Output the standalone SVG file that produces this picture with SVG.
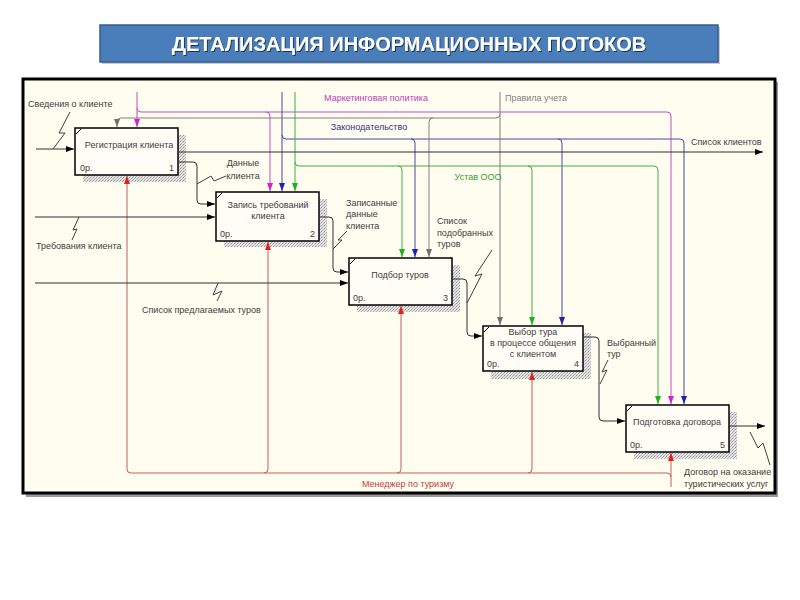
<svg xmlns="http://www.w3.org/2000/svg" width="800" height="600" viewBox="0 0 800 600">
<style>
  .lbl{font-family:"Liberation Sans",Arial,sans-serif;font-size:9px;fill:#404040}
  .box{fill:#fffdf6;stroke:#000;stroke-width:1.5}
  .shd{fill:url(#hatch)}
  .ttl{font-family:"Liberation Sans",Arial,sans-serif;font-size:9px;fill:#404040;text-anchor:middle}
  .ref{font-family:"Liberation Sans",Arial,sans-serif;font-size:9px;fill:#404040}
  .ln{fill:none;stroke-width:1}
  .k{stroke:#303030}
  .m{stroke:#c050c0}
  .b{stroke:#4848a0}
  .g{stroke:#40b040}
  .r{stroke:#c06060}
  .y{stroke:#808080}
  .sq{fill:none;stroke:#404040;stroke-width:1}
</style>
<defs>
  <pattern id="hatch" width="3" height="3" patternUnits="userSpaceOnUse">
    <rect width="3" height="3" fill="#e4e4e4"/>
    <rect width="1" height="1" fill="#909090"/>
    <rect x="2" y="1" width="1" height="1" fill="#b0b0b0"/>
    <rect x="1" y="2" width="1" height="1" fill="#b0b0b0"/>
  </pattern>
  <marker id="ak" viewBox="0 0 8 6" refX="8" refY="3" markerWidth="8" markerHeight="6" orient="auto" markerUnits="userSpaceOnUse"><path d="M0,0 L8,3 L0,6 z" fill="#000"/></marker>
  <marker id="am" viewBox="0 0 8 6" refX="8" refY="3" markerWidth="8" markerHeight="6" orient="auto" markerUnits="userSpaceOnUse"><path d="M0,0 L8,3 L0,6 z" fill="#d020d0"/></marker>
  <marker id="ab" viewBox="0 0 8 6" refX="8" refY="3" markerWidth="8" markerHeight="6" orient="auto" markerUnits="userSpaceOnUse"><path d="M0,0 L8,3 L0,6 z" fill="#2020b0"/></marker>
  <marker id="ag" viewBox="0 0 8 6" refX="8" refY="3" markerWidth="8" markerHeight="6" orient="auto" markerUnits="userSpaceOnUse"><path d="M0,0 L8,3 L0,6 z" fill="#20b020"/></marker>
  <marker id="ay" viewBox="0 0 8 6" refX="8" refY="3" markerWidth="8" markerHeight="6" orient="auto" markerUnits="userSpaceOnUse"><path d="M0,0 L8,3 L0,6 z" fill="#707070"/></marker>
  <marker id="ar" viewBox="0 0 8 6" refX="8" refY="3" markerWidth="8" markerHeight="6" orient="auto" markerUnits="userSpaceOnUse"><path d="M0,0 L8,3 L0,6 z" fill="#e02020"/></marker>
  <filter id="tsh" x="-5%" y="-30%" width="110%" height="160%"><feDropShadow dx="1" dy="1" stdDeviation="0.6" flood-color="#000" flood-opacity="0.6"/></filter>
</defs>

<rect width="800" height="600" fill="#ffffff"/>

<!-- title -->
<g id="title">
  <rect x="102" y="27" width="618" height="37" fill="#9aa8bb" opacity="0.6"/>
  <rect x="100" y="25" width="618" height="37" fill="#4a7ebb" stroke="#385d8a" stroke-width="1.5"/>
  <text x="409" y="50.5" text-anchor="middle" font-family="'Liberation Sans',Arial,sans-serif" font-weight="bold" font-size="20" fill="#ffffff" filter="url(#tsh)">ДЕТАЛИЗАЦИЯ ИНФОРМАЦИОННЫХ ПОТОКОВ</text>
</g>

<!-- frame -->
<rect x="26" y="82" width="752" height="415" fill="#9a9a9a"/>
<rect x="23" y="79" width="752" height="414" fill="#fffcf0" stroke="#000" stroke-width="3"/>

<!-- nodes -->
<g id="n1">
  <rect class="shd" x="83" y="135" width="103" height="47"/>
  <rect class="box" x="75" y="128" width="103" height="47"/>
  <path d="M76,134 L81,129" stroke="#000" stroke-width="1"/>
  <text class="ttl" x="129" y="148">Регистрация клиента</text>
  <text class="ref" x="80" y="171">0р.</text>
  <text class="ref" x="174" y="171" text-anchor="end">1</text>
</g>
<g id="n2">
  <rect class="shd" x="224" y="199" width="103" height="48"/>
  <rect class="box" x="216" y="192" width="103" height="49"/>
  <path d="M217,198 L222,193" stroke="#000" stroke-width="1"/>
  <text class="ttl" x="268" y="208">Запись требований</text>
  <text class="ttl" x="268" y="219">клиента</text>
  <text class="ref" x="220" y="237">0р.</text>
  <text class="ref" x="315" y="237" text-anchor="end">2</text>
</g>
<g id="n3">
  <rect class="shd" x="357" y="265" width="103" height="47"/>
  <rect class="box" x="349" y="258" width="103" height="47"/>
  <path d="M350,264 L355,259" stroke="#000" stroke-width="1"/>
  <text class="ttl" x="400" y="278">Подбор туров</text>
  <text class="ref" x="353" y="301">0р.</text>
  <text class="ref" x="448" y="301" text-anchor="end">3</text>
</g>
<g id="n4">
  <rect class="shd" x="491" y="333" width="100" height="46"/>
  <rect class="box" x="483" y="326" width="100" height="45"/>
  <path d="M484,332 L489,327" stroke="#000" stroke-width="1"/>
  <text class="ttl" x="533" y="335">Выбор тура</text>
  <text class="ttl" x="533" y="346">в процессе общения</text>
  <text class="ttl" x="533" y="357">с клиентом</text>
  <text class="ref" x="487" y="367">0р.</text>
  <text class="ref" x="579" y="367" text-anchor="end">4</text>
</g>
<g id="n5">
  <rect class="shd" x="634" y="412" width="103" height="47"/>
  <rect class="box" x="626" y="405" width="103" height="47"/>
  <path d="M627,411 L632,406" stroke="#000" stroke-width="1"/>
  <text class="ttl" x="677" y="425">Подготовка договора</text>
  <text class="ref" x="630" y="448">0р.</text>
  <text class="ref" x="725" y="448" text-anchor="end">5</text>
</g>

<!-- connectors -->
<g id="connectors">
  <!-- controls: magenta -->
  <path class="ln m" d="M137,92 V127" marker-end="url(#am)"/>
  <path class="ln m" d="M137,108 Q137,112 141,112 H667 Q671,112 671,116 V404" marker-end="url(#am)"/>
  <path class="ln m" d="M266,112 Q270,112 270,116 V191" marker-end="url(#am)"/>
  <!-- blue -->
  <path class="ln b" d="M282,92 V191" marker-end="url(#ab)"/>
  <path class="ln b" d="M282,135 Q282,139 286,139 H680 Q684,139 684,143 V404" marker-end="url(#ab)"/>
  <path class="ln b" d="M411,139 Q415,139 415,143 V257" marker-end="url(#ab)"/>
  <path class="ln b" d="M558,139 Q562,139 562,143 V325" marker-end="url(#ab)"/>
  <!-- green -->
  <path class="ln g" d="M295,92 V191" marker-end="url(#ag)"/>
  <path class="ln g" d="M295,162 Q295,166 299,166 H654 Q658,166 658,170 V404" marker-end="url(#ag)"/>
  <path class="ln g" d="M398,166 Q402,166 402,170 V257" marker-end="url(#ag)"/>
  <path class="ln g" d="M528,166 Q532,166 532,170 V325" marker-end="url(#ag)"/>
  <!-- gray -->
  <path class="ln y" d="M500,92 V325" marker-end="url(#ay)"/>
  <path class="ln y" d="M500,114 Q500,118 496,118 H121 Q117,118 117,122 V127" marker-end="url(#ay)"/>
  <path class="ln y" d="M433,118 Q429,118 429,122 V257" marker-end="url(#ay)"/>
  <!-- mechanism: red -->
  <path class="ln r" d="M671,487 V453" marker-end="url(#ar)"/>
  <path class="ln r" d="M671,477 Q671,473 667,473 H131 Q127,473 127,469 V176" marker-end="url(#ar)"/>
  <path class="ln r" d="M264,473 Q268,473 268,469 V242" marker-end="url(#ar)"/>
  <path class="ln r" d="M397,473 Q401,473 401,469 V306" marker-end="url(#ar)"/>
  <path class="ln r" d="M528,473 Q532,473 532,469 V372" marker-end="url(#ar)"/>
  <!-- inputs / outputs: black -->
  <path class="ln k" d="M36,149 H74" marker-end="url(#ak)"/>
  <path class="ln k" d="M179,152 H763" marker-end="url(#ak)"/>
  <path class="ln k" d="M179,162 H193 Q197,162 197,166 V200 Q197,204 201,204 H215" marker-end="url(#ak)"/>
  <path class="ln k" d="M35,217 H215" marker-end="url(#ak)"/>
  <path class="ln k" d="M35,283 H348" marker-end="url(#ak)"/>
  <path class="ln k" d="M320,217 H329 Q333,217 333,221 V268 Q333,272 337,272 H348" marker-end="url(#ak)"/>
  <path class="ln k" d="M453,279 H463 Q467,279 467,283 V332 Q467,336 471,336 H482" marker-end="url(#ak)"/>
  <path class="ln k" d="M583,337 H595 Q599,337 599,341 V417 Q599,421 603,421 H625" marker-end="url(#ak)"/>
  <path class="ln k" d="M730,426 H765" marker-end="url(#ak)"/>
  <!-- squiggles -->
  <path class="sq" d="M70,112 L59,133 L65,133 L53,149"/>
  <path class="sq" d="M197,184 L211,176 L214,181 L226,176"/>
  <path class="sq" d="M79,217 L73,230 L77,229 L72,240"/>
  <path class="sq" d="M218,283 L213,295 L222,291 L217,301"/>
  <path class="sq" d="M347,231 L338,240 L342,240 L333,249"/>
  <path class="sq" d="M492,250 L475,276 L482,274 L467,303"/>
  <path class="sq" d="M608,360 L602,372 L607,370 L600,384"/>
  <path class="sq" d="M750,432 L758,448 L763,443 L770,465"/>
  <!-- labels -->
  <text class="lbl" x="28" y="107">Сведения о клиенте</text>
  <text class="lbl" x="243" y="166" text-anchor="middle">Данные</text>
  <text class="lbl" x="243" y="179" text-anchor="middle">клиента</text>
  <text class="lbl" x="376" y="101" text-anchor="middle" style="fill:#c040c0">Маркетинговая политика</text>
  <text class="lbl" x="505" y="101" style="fill:#808080">Правила учета</text>
  <text class="lbl" x="369" y="130" text-anchor="middle" style="fill:#333380">Законодательство</text>
  <text class="lbl" x="691" y="145">Список клиентов</text>
  <text class="lbl" x="478" y="180" text-anchor="middle" style="fill:#30a030">Устав ООО</text>
  <text class="lbl" x="346" y="206">Записанные</text>
  <text class="lbl" x="346" y="217">данные</text>
  <text class="lbl" x="346" y="229">клиента</text>
  <text class="lbl" x="437" y="224">Список</text>
  <text class="lbl" x="437" y="236">подобранных</text>
  <text class="lbl" x="437" y="247">туров</text>
  <text class="lbl" x="36" y="249">Требования клиента</text>
  <text class="lbl" x="142" y="313">Список предлагаемых туров</text>
  <text class="lbl" x="607" y="346">Выбранный</text>
  <text class="lbl" x="607" y="357">тур</text>
  <text class="lbl" x="684" y="475">Договор на оказание</text>
  <text class="lbl" x="684" y="487">туристических услуг</text>
  <text class="lbl" x="408" y="487" text-anchor="middle" style="fill:#c04040">Менеджер по туризму</text>
</g>
</svg>
